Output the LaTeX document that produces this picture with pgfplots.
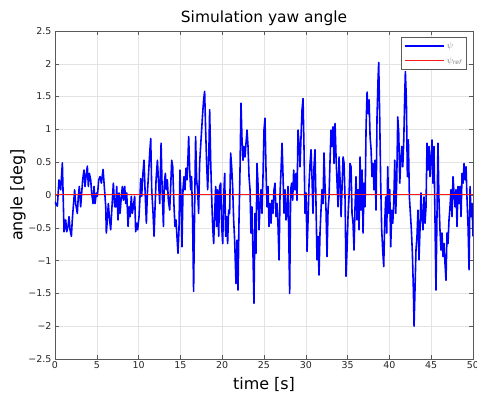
\documentclass[border=0pt]{standalone}
\usepackage{pgfplots}
\pgfplotsset{compat=1.18}
\usepackage{fontspec}
\setmainfont{DejaVu Sans}
\definecolor{axgray}{gray}{0.35}
\definecolor{txtgray}{gray}{0.15}
\begin{document}
\begin{tikzpicture}
\begin{axis}[
  name=ax,
  scale only axis,
  width=418bp, height=328bp,
  xmin=0, xmax=50, ymin=-2.5, ymax=2.5,
  xtick={0,5,...,50},
  ytick={-2.5,-2,-1.5,-1,-0.5,0,0.5,1,1.5,2,2.5},
  yticklabels={−2.5,−2,−1.5,−1,−0.5,0,0.5,1,1.5,2,2.5},
  /pgf/number format/assume math mode=true,
  tick label style={font=\fontsize{9.5}{11}\selectfont, text=txtgray},
  xticklabel style={yshift=1bp},
  grid=major,
  major grid style={gray!22, line width=0.4pt},
  tick align=inside,
  major tick length=4bp,
  axis line style={axgray, line width=0.6pt},
  every tick/.style={axgray, line width=0.5pt},
  title={Simulation yaw angle},
  title style={font=\fontsize{15.5}{18}\selectfont, text=black, yshift=-4bp},
  xlabel={time [s]},
  ylabel={angle [deg]},
  label style={font=\fontsize{16}{19}\selectfont, text=black},
  xlabel style={yshift=-2bp},
  ylabel style={yshift=-4bp},
  legend style={at={(0.9856,0.982)}, anchor=north east, draw=axgray, line width=0.6pt,
    font=\fontsize{9}{11}\selectfont, text=gray, inner xsep=3bp, inner ysep=3bp, row sep=3bp,
    legend cell align=left},
  legend image code/.code={\draw[#1] (0bp,0bp) -- (39bp,0bp);},
]
\addplot[blue, line width=1.6pt, line join=round] coordinates {
(0,-0.1)(0.08,-0.13)(0.28,-0.17)(0.48,0.23)(0.68,0.08)(0.88,0.49)(1.08,-0.56)(1.28,-0.38)(1.40,-0.56)(1.56,-0.48)(1.68,-0.33)(1.80,-0.53)(1.96,-0.63)(2.07,-0.38)(2.19,-0.18)(2.35,0.08)(2.47,-0.13)(2.67,-0.28)(2.79,-0.02)(2.91,0.13)(3.07,-0.18)(3.19,0.03)(3.31,0.23)(3.47,0.38)(3.59,0.13)(3.71,0.28)(3.87,0.44)(3.99,0.13)(4.11,0.33)(4.27,0.23)(4.39,0.03)(4.55,-0.13)(4.67,0.13)(4.79,-0.13)(4.95,0.03)(5.07,-0.02)(5.23,0.23)(5.39,0.28)(5.55,0.18)(5.75,0.39)(5.87,0.18)(6.07,-0.18)(6.14,-0.58)(6.26,-0.38)(6.38,-0.13)(6.50,-0.33)(6.66,-0.53)(6.86,-0.08)(6.98,0.18)(7.14,-0.18)
(7.26,-0.18)(7.38,0.13)(7.54,-0.38)(7.66,0.03)(7.78,-0.28)(7.94,-0.02)(8.06,0.13)(8.18,-0.08)(8.34,0.13)(8.46,-0.13)(8.58,0.03)(8.74,-0.48)(8.86,-0.18)(8.98,-0.33)(9.13,-0.02)(9.25,-0.28)(9.37,-0.18)(9.53,-0.02)(9.65,-0.56)(9.77,-0.43)(9.89,-0.53)(10.05,-0.33)(10.17,-0.02)(10.25,0.25)(10.37,-0.02)(10.49,0.28)(10.65,0.53)(10.77,0.08)(10.93,-0.43)(11.05,0.03)(11.17,0.28)(11.33,0.64)(11.45,0.86)(11.57,0.08)(11.73,-0.28)(11.85,-0.63)(11.97,-0.18)(12.09,0.23)(12.25,0.53)(12.37,0.23)(12.53,-0.13)(12.69,0.79)(12.81,0.13)(12.97,-0.48)(13.08,0.18)(13.20,0.33)(13.32,0.08)(13.44,0.23)(13.56,-0.08)(13.72,-0.23)(13.84,0.13)(13.96,0.53)(14.08,0.43)
(14.23,-0.15)(14.35,-0.48)(14.47,-0.38)(14.59,-0.63)(14.71,-0.89)(14.83,-0.53)(14.95,0.38)(15.07,-0.02)(15.19,-0.79)(15.31,0.08)(15.43,0.28)(15.55,0.08)(15.67,0.41)(15.79,0.23)(15.91,0.58)(15.99,0.89)(16.11,0.38)(16.23,0.08)(16.34,0.28)(16.46,-0.38)(16.58,-1.47)(16.70,-0.23)(16.82,0.89)(16.94,0.23)(17.06,0.08)(17.18,-0.28)(17.30,0.48)(17.42,0.74)(17.54,0.99)(17.66,1.24)(17.78,1.45)(17.90,1.58)(18.02,0.99)(18.14,0.48)(18.26,0.08)(18.38,0.48)(18.50,1.30)(18.62,0.53)(18.74,-0.02)(18.86,-0.48)(18.98,-0.74)(19.10,-0.28)(19.22,0.13)(19.34,-0.48)(19.46,0.08)(19.58,-0.63)(19.70,0.13)(19.82,0.18)(19.94,-0.48)(20.06,-0.74)(20.18,-0.02)(20.30,0.33)(20.41,-0.63)(20.53,-0.33)(20.65,-0.74)(20.77,-0.23)(20.89,-0.28)(21.01,0.64)(21.13,0.43)(21.25,0.13)(21.37,-0.38)(21.49,-0.69)
(21.65,-1.35)(21.77,-0.69)(21.89,-1.45)(22.01,-0.38)(22.13,0.38)(22.25,1.40)(22.37,0.84)(22.49,0.53)(22.61,0.74)(22.73,0.58)(22.85,0.79)(22.97,0.99)(23.09,0.74)(23.21,0.28)(23.33,0.08)(23.44,-0.58)(23.56,-0.18)(23.68,-0.89)(23.80,-1.65)(23.92,-0.28)(24.04,-0.89)(24.16,0.48)(24.28,0.18)(24.40,-0.53)(24.52,-0.18)(24.64,0.08)(24.76,-0.28)(24.88,0.28)(25.00,0.99)(25.12,1.17)(25.24,0.38)(25.36,-0.18)(25.48,0.13)(25.60,-0.48)(25.72,-0.13)(25.84,-0.43)(25.96,-0.08)(26.08,-0.28)(26.20,0.08)(26.32,0.18)(26.44,-0.33)(26.56,-0.13)(26.68,-0.48)(26.80,-0.99)(26.92,0.03)(27.04,0.38)(27.16,0.79)(27.28,0.28)(27.40,-0.28)(27.52,0.08)(27.63,-0.38)(27.75,-0.28)(27.87,0.13)(27.99,-0.84)(28.07,-1.50)(28.19,0.08)(28.31,0.18)(28.43,-0.08)(28.55,0.38)(28.71,0.08)(28.83,0.33)
(28.95,-0.08)(29.07,0.99)(29.19,0.79)(29.31,0.43)(29.43,0.89)(29.55,1.30)(29.67,1.47)(29.79,0.69)(29.91,-0.28)(30.03,0.03)(30.15,-0.86)(30.27,-0.38)(30.39,0.18)(30.51,0.48)(30.63,0.69)(30.75,0.23)(30.86,-0.28)(30.98,0.43)(31.10,0.69)(31.22,-0.13)(31.34,-0.99)(31.46,-0.63)(31.58,-1.22)(31.70,-0.58)(31.82,-0.23)(31.94,0.08)(32.06,-0.13)(32.18,0.64)(32.30,0.13)(32.42,-0.23)(32.54,-0.94)(32.66,-0.23)(32.78,-0.03)(32.90,0.53)(33.02,0.99)(33.14,0.74)(33.26,1.04)(33.38,0.48)(33.50,1.09)(33.62,0.58)(33.74,0.18)(33.86,-0.18)(33.98,0.58)(34.10,0.23)(34.22,-0.33)(34.34,0.13)(34.46,0.58)(34.58,0.48)(34.70,-0.08)(34.81,-1.24)(34.93,-0.84)(35.05,-0.33)(35.17,-0.03)(35.29,0.48)(35.41,0.43)(35.53,-0.28)(35.65,-0.43)(35.77,-0.84)
(35.89,-0.18)(36.01,0.28)(36.13,-0.38)(36.25,0.08)(36.37,-0.53)(36.49,0.58)(36.61,-0.23)(36.73,0.38)(36.85,-0.58)(36.97,0.18)(37.09,-0.18)(37.21,1.04)(37.33,1.57)(37.45,1.24)(37.57,1.45)(37.69,0.89)(37.81,0.69)(37.92,0.28)(38.04,0.48)(38.16,0.08)(38.28,0.53)(38.40,-0.23)(38.52,1.19)(38.64,1.75)(38.72,2.02)(38.84,1.19)(38.96,0.18)(39.08,-0.53)(39.20,-0.84)(39.32,-1.09)(39.44,-0.43)(39.56,-0.03)(39.68,-0.58)(39.80,0.43)(39.92,-0.28)(40.04,0.08)(40.16,-0.79)(40.28,-0.23)(40.40,-0.43)(40.52,-0.13)(40.64,0.53)(40.76,-0.28)(40.88,0.23)(41.00,1.19)(41.12,0.94)(41.24,0.18)(41.36,0.53)(41.48,0.74)(41.60,0.43)(41.72,0.84)(41.84,1.55)(41.91,1.88)(42.03,1.45)(42.15,0.28)(42.27,0.84)(42.39,-0.03)(42.51,-0.28)(42.63,-0.53)(42.75,-0.89)(42.87,-1.45)(42.95,-2.0)
(43.06,-1.45)(43.18,-0.84)(43.30,-0.63)(43.42,-0.23)(43.54,-0.99)(43.66,-0.53)(43.78,0.03)(43.90,-0.33)(44.02,-0.53)(44.14,-0.03)(44.26,-0.43)(44.38,-0.18)(44.50,0.79)(44.62,0.38)(44.74,0.74)(44.86,0.28)(44.98,0.53)(45.10,0.84)(45.21,0.18)(45.33,0.74)(45.45,-0.33)(45.57,-1.45)(45.69,-0.33)(45.81,0.79)(45.93,-0.08)(46.05,-0.53)(46.17,-0.84)(46.29,-0.58)(46.41,-0.94)(46.53,-0.74)(46.65,-1.04)(46.77,-1.30)(46.89,-0.58)(47.01,-0.74)(47.13,-0.38)(47.25,-0.18)(47.37,0.08)(47.49,-0.33)(47.61,0.28)(47.73,0.03)(47.85,-0.18)(47.97,0.08)(48.09,-0.48)(48.21,0.13)(48.33,-0.13)(48.45,0.13)(48.57,-0.33)(48.69,0.33)(48.81,0.18)(48.93,0.48)(49.05,0.23)(49.17,0.43)(49.29,-0.08)(49.41,-0.48)(49.53,-1.14)(49.65,0.13)(49.77,-0.33)(49.89,-0.13)(50.0,-0.63)
};
\addlegendentry{$\psi$}
\addplot[red!90!white, line width=1pt] coordinates {(0,0)(50,0)};
\addlegendentry{$\psi_{\mathit{ref}}$}
\end{axis}
\pgfresetboundingbox
\useasboundingbox ([xshift=-55bp,yshift=-35bp]ax.south west) rectangle ([xshift=4bp,yshift=31bp]ax.north east);
\end{tikzpicture}
\end{document}
